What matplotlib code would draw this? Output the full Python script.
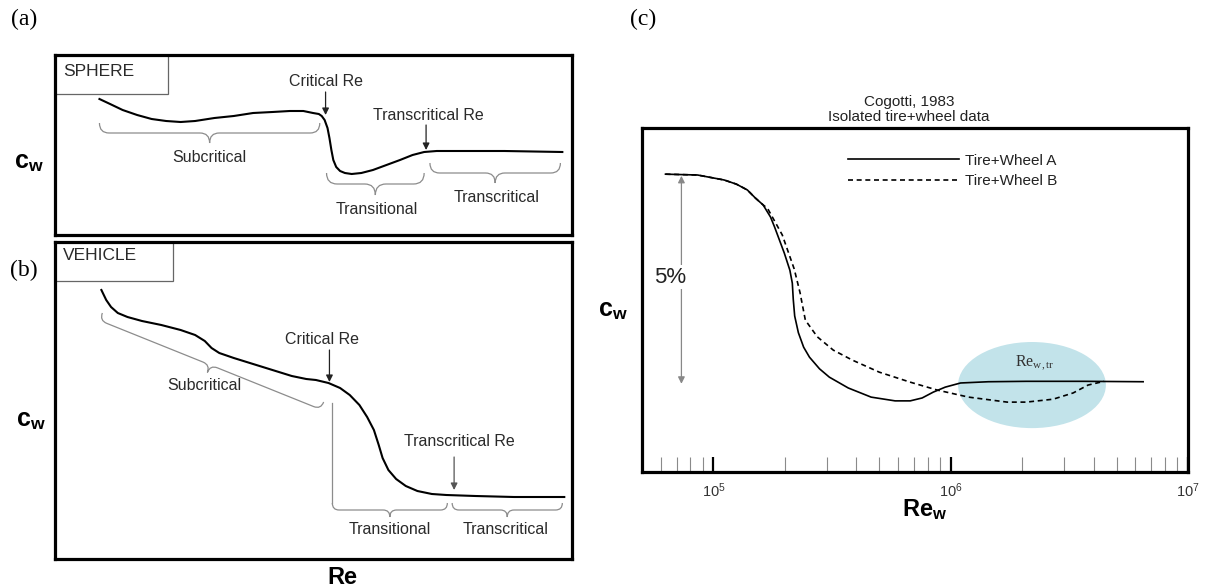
import numpy as np
import matplotlib
matplotlib.use('Agg')
import matplotlib.pyplot as plt
from matplotlib.path import Path
from matplotlib.patches import PathPatch, Rectangle, Ellipse
from matplotlib.ticker import NullFormatter

plt.rcParams['font.family'] = 'Liberation Sans'
plt.rcParams['mathtext.fontset'] = 'custom'
plt.rcParams['mathtext.rm'] = 'Liberation Serif'
plt.rcParams['mathtext.sf'] = 'Liberation Sans'
plt.rcParams['mathtext.bf'] = 'Liberation Sans:bold'
plt.rcParams['mathtext.it'] = 'Liberation Serif:italic'

# (a) sphere drag curve, schematic units (Re position, c_w)
sphere_re = [46, 57, 70, 85, 100, 115, 130, 145, 165, 185, 205, 225, 243, 257, 267, 273, 276,
             279, 282, 284, 286, 288, 291, 295, 300, 307, 317, 329, 343, 357, 370, 382, 395, 416, 465, 525]
sphere_cw = [136, 131, 125, 120, 116, 114, 113, 114, 117, 119, 122, 123, 124, 124, 122, 121, 119,
             115, 107, 97, 85, 75, 68, 64, 62, 61, 62, 65, 70, 75, 80, 83, 84, 84, 84, 83]

# (b) vehicle drag curve, schematic units
vehicle_re = [48, 53, 58, 65, 75, 90, 110, 130, 145, 155, 162, 170, 185, 205, 225, 245, 260, 270,
              283, 295, 305, 315, 323, 330, 335, 339, 345, 353, 363, 375, 390, 405, 435, 475, 527]
vehicle_cw = [269, 259, 252, 246, 242, 238, 234, 229, 224, 218, 211, 206, 201, 195, 189, 183, 180, 179,
              176, 171, 164, 154, 142, 129, 114, 101, 89, 80, 73, 68, 65, 64, 63, 62, 62]

regimes = ['Subcritical', 'Transitional', 'Transcritical']

# (c) Cogotti 1983, isolated tire+wheel
re_a = [6.28e4, 8.57e4, 1.11e5, 1.25e5, 1.39e5, 1.50e5, 1.62e5, 1.74e5, 1.81e5, 1.99e5, 2.10e5,
        2.15e5, 2.17e5, 2.20e5, 2.28e5, 2.40e5, 2.54e5, 2.80e5, 3.08e5, 3.70e5, 4.62e5, 5.83e5,
        6.75e5, 7.58e5, 8.44e5, 9.48e5, 1.10e6, 1.44e6, 2.08e6, 3.65e6, 6.47e6]
cw_a = [7.16, 7.14, 7.02, 6.92, 6.78, 6.59, 6.42, 6.13, 5.89, 5.26, 4.85,
        4.54, 4.15, 3.75, 3.35, 3.00, 2.76, 2.48, 2.28, 2.02, 1.80, 1.71,
        1.71, 1.78, 1.92, 2.04, 2.14, 2.17, 2.18, 2.18, 2.17]
re_b = [6.28e4, 8.57e4, 1.11e5, 1.25e5, 1.39e5, 1.50e5, 1.62e5, 1.69e5, 1.95e5, 2.19e5, 2.32e5,
        2.35e5, 2.44e5, 2.74e5, 3.20e5, 3.85e5, 5.00e5, 6.75e5, 8.77e5, 1.19e6, 1.73e6, 2.08e6,
        2.70e6, 3.28e6, 3.79e6, 4.43e6]
cw_b = [7.16, 7.14, 7.02, 6.92, 6.78, 6.59, 6.42, 6.34, 5.70, 4.88, 4.30,
        4.13, 3.65, 3.25, 2.93, 2.69, 2.40, 2.16, 1.97, 1.80, 1.68, 1.68,
        1.75, 1.90, 2.09, 2.18]
series_names = ['Tire+Wheel A', 'Tire+Wheel B']
major_ticks = [1e5, 1e6, 1e7]
major_labels = [r'$\mathsf{10^{5}}$', r'$\mathsf{10^{6}}$', r'$\mathsf{10^{7}}$']
minor_ticks = [6e4, 7e4, 8e4, 9e4] + [k * 1e5 for k in range(2, 10)] + [k * 1e6 for k in range(2, 10)]

W, H = 1205, 587
fig = plt.figure(figsize=(W / 100, H / 100), dpi=100)

TXT = '#2a2a2a'
BRACE = '#8c8c8c'


def panel(left, top, right, bottom):
    ax = fig.add_axes([left / W, 1 - bottom / H, (right - left) / W, (bottom - top) / H])
    for s in ax.spines.values():
        s.set_linewidth(2.3)
    return ax


def brace(ax, p0, p1, depth, color=BRACE, lw=0.9):
    # curly brace from p0 to p1, tip on the right-hand side of the direction p0->p1
    p0 = np.array(p0, float)
    p1 = np.array(p1, float)
    L = np.hypot(*(p1 - p0))
    e = (p1 - p0) / L
    n = np.array([e[1], -e[0]])
    h = depth / 2
    r = min(h, L / 4)
    local = [(0, 0), (0, h), (r, h), (L / 2 - r, h), (L / 2, h), (L / 2, 2 * h),
             (L / 2, h), (L / 2 + r, h), (L - r, h), (L, h), (L, 0)]
    codes = [Path.MOVETO, Path.CURVE3, Path.CURVE3, Path.LINETO, Path.CURVE3, Path.CURVE3,
             Path.CURVE3, Path.CURVE3, Path.LINETO, Path.CURVE3, Path.CURVE3]
    verts = [p0 + u * e + v * n for u, v in local]
    ax.add_patch(PathPatch(Path(verts, codes), fill=False, edgecolor=color, lw=lw))


def arrow(ax, x, y0, y1, color='#222'):
    ax.annotate('', xy=(x, y1), xytext=(x, y0),
                arrowprops=dict(arrowstyle='-|>', color=color, lw=0.9, mutation_scale=10,
                                shrinkA=0, shrinkB=0))


# ---- (a) sphere ----
ax_a = panel(55, 55, 572, 235)
ax_a.set_xlim(0, 535)
ax_a.set_ylim(0, 180)
ax_a.set_xticks([])
ax_a.set_yticks([])
ax_a.plot(sphere_re, sphere_cw, color='k', lw=1.5)
ax_a.add_patch(Rectangle((0, 141), 117, 39, facecolor='white', edgecolor='#666', lw=0.9))
ax_a.text(8, 164, 'SPHERE', fontsize=12.5, color=TXT, va='center')

brace(ax_a, (46, 112), (274, 112), 20)
brace(ax_a, (281, 62), (382, 62), 22)
brace(ax_a, (388, 72), (523, 72), 20)
ax_a.text(160, 78, regimes[0], fontsize=11.5, color=TXT, ha='center', va='center')
ax_a.text(333, 26, regimes[1], fontsize=11.5, color=TXT, ha='center', va='center')
ax_a.text(457, 37, regimes[2], fontsize=11.5, color=TXT, ha='center', va='center')
ax_a.text(280, 153, 'Critical Re', fontsize=11.5, color=TXT, ha='center', va='center')
arrow(ax_a, 280, 143, 120)
ax_a.text(386, 120, 'Transcritical Re', fontsize=11.5, color=TXT, ha='center', va='center')
arrow(ax_a, 384, 110, 85)

# ---- (b) vehicle ----
ax_b = panel(55, 242, 572, 559)
ax_b.set_xlim(0, 535)
ax_b.set_ylim(0, 317)
ax_b.set_xticks([])
ax_b.set_yticks([])
ax_b.plot(vehicle_re, vehicle_cw, color='k', lw=1.5)
ax_b.add_patch(Rectangle((0, 278), 122, 39, facecolor='white', edgecolor='#666', lw=0.9))
ax_b.text(8, 304, 'VEHICLE', fontsize=12.5, color=TXT, va='center')

brace(ax_b, (49, 246), (278, 157), 16)
ax_b.plot([287, 287], [156, 56], color=BRACE, lw=0.9)
brace(ax_b, (287, 56), (406, 56), 14)
brace(ax_b, (411, 56), (525, 56), 14)
ax_b.text(155, 173, regimes[0], fontsize=11.5, color=TXT, ha='center', va='center')
ax_b.text(346, 29, regimes[1], fontsize=11.5, color=TXT, ha='center', va='center')
ax_b.text(466, 29, regimes[2], fontsize=11.5, color=TXT, ha='center', va='center')
ax_b.text(276, 219, 'Critical Re', fontsize=11.5, color=TXT, ha='center', va='center')
arrow(ax_b, 284, 209, 177)
ax_b.text(418, 117, 'Transcritical Re', fontsize=11.5, color=TXT, ha='center', va='center')
arrow(ax_b, 413, 102, 69, color='#555')

# ---- (c) tire + wheel ----
ax_c = panel(642, 128, 1188, 472)
ax_c.set_xscale('log')
ax_c.set_xlim(5e4, 1e7)
ax_c.set_ylim(0, 8.27)

cx, cy = ax_c.transAxes.inverted().transform(ax_c.transData.transform((2.2e6, 2.09)))
ax_c.add_patch(Ellipse((cx, cy), 0.623 / np.log10(1e7 / 5e4), 2.07 / 8.27,
                       transform=ax_c.transAxes, facecolor='#c2e3ea', edgecolor='none', zorder=1))
ax_c.text(2.25e6, 2.62, r'$\mathrm{Re}_{\mathrm{w,tr}}$', fontsize=11.5, color='#333',
          ha='center', va='center')

ax_c.plot(re_a, cw_a, color='k', lw=1.2, label=series_names[0], zorder=3)
ax_c.plot(re_b, cw_b, color='k', lw=1.2, ls=(0, (3, 2.2)), label=series_names[1], zorder=3)
ax_c.legend(loc='upper left', bbox_to_anchor=(0.377, 0.925), frameon=False, fontsize=11,
            handlelength=7.3, handletextpad=0.4, labelspacing=0.43, borderpad=0,
            borderaxespad=0, labelcolor='#222')

# 5 % span of c_w
arrow_lo = 2.12
arrow_hi = arrow_lo + 5
arrow(ax_c, 7.33e4, 4.6, arrow_hi, color='#888')
arrow(ax_c, 7.33e4, 4.6, arrow_lo, color='#888')
ax_c.text(6.6e4, 4.68, '5%', fontsize=16, color='#222', ha='center', va='center',
          bbox=dict(facecolor='white', edgecolor='none', pad=1))

ax_c.set_xticks(major_ticks)
ax_c.set_xticklabels(major_labels)
ax_c.set_xticks(minor_ticks, minor=True)
ax_c.xaxis.set_minor_formatter(NullFormatter())
ax_c.tick_params(axis='x', which='major', direction='in', length=11, width=1.6, color='k',
                 pad=7, labelsize=10.5, labelcolor='#333')
ax_c.tick_params(axis='x', which='minor', direction='in', length=11, width=0.8, color='#8a8a8a')
ax_c.tick_params(axis='y', left=False, labelleft=False)
ax_c.text(0.489, 1.012, 'Cogotti, 1983\nIsolated tire+wheel data', transform=ax_c.transAxes,
          fontsize=11, color='#222', ha='center', va='bottom', linespacing=1.1)

# axis labels and panel letters
fig.text(29 / W, 1 - 162 / H, r'$\mathbf{c}_{\mathbf{w}}$', fontsize=18, ha='center', va='center')
fig.text(31 / W, 1 - 420 / H, r'$\mathbf{c}_{\mathbf{w}}$', fontsize=18, ha='center', va='center')
fig.text(613 / W, 1 - 310 / H, r'$\mathbf{c}_{\mathbf{w}}$', fontsize=18, ha='center', va='center')
fig.text(342 / W, 1 - 577 / H, 'Re', fontsize=17, fontweight='bold', ha='center', va='center')
fig.text(925 / W, 1 - 510 / H, r'$\mathbf{Re}_{\mathbf{w}}$', fontsize=17, ha='center', va='center')
for lbl, x, y in [('(a)', 24, 19), ('(b)', 24, 270), ('(c)', 643, 19)]:
    fig.text(x / W, 1 - y / H, lbl, fontsize=17, family='Liberation Serif', ha='center', va='center')

fig.savefig('out.png', dpi=100)
